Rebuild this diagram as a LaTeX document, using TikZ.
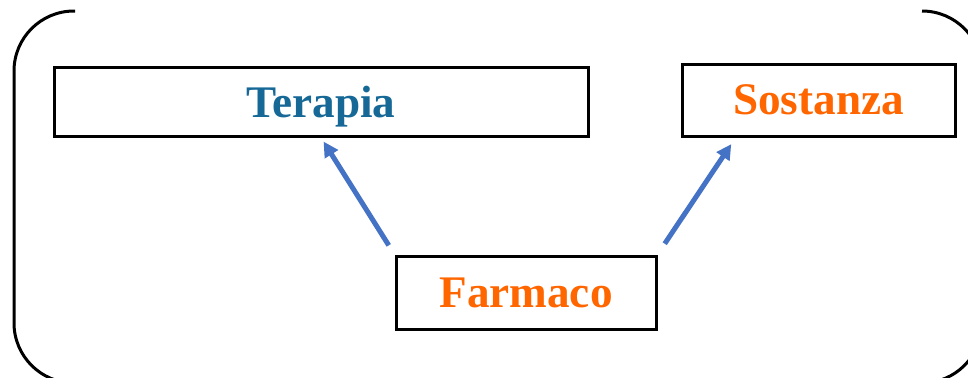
\documentclass[tikz,border=0pt]{standalone}
\usepackage{fontspec}
\setmainfont{Liberation Serif}
\usetikzlibrary{positioning, calc, arrows.meta}

\definecolor{terapiablue}{RGB}{22,104,150}
\definecolor{farmorange}{RGB}{255,102,0}
\definecolor{arrowblue}{RGB}{68,114,196}

\begin{document}
\begin{tikzpicture}[x=0.5pt, y=0.5pt,
        box/.style={draw, line width=1.5pt, rectangle, inner sep=0pt, text depth=0pt, font=\fontsize{22.6}{26}\selectfont\bfseries},
        link/.style={draw=arrowblue, line width=2.5pt, -{Triangle[length=7.5pt, width=7.5pt]}}]
        \clip (0,0) rectangle (968,377);

        % Frame
        \draw[line width=1.5pt, rounded corners=30pt] (75,366) -- (14,366) -- (14,-6) -- (75,-6);
        \draw[line width=1.5pt, rounded corners=30pt] (922,366) -- (982,366) -- (982,-6) -- (922,-6);

        % Nodes
        \node[box, minimum width=130pt, minimum height=36.5pt, text=farmorange] (farmaco) at (526,84.5) {Farmaco};
        \node[box, minimum width=267pt, minimum height=34.5pt, text=terapiablue, above=58.5pt of farmaco, xshift=-102.5pt] (terapia) {Terapia};
        \node[box, minimum width=136.5pt, minimum height=36pt, text=farmorange, above=58.5pt of farmaco, xshift=146.25pt] (sostanza) {Sostanza};

        % Edges
        \draw[link, shorten <=5.4pt, shorten >=2.4pt] (farmaco.north west) -- (terapia.south);
        \draw[link, shorten <=6.5pt, shorten >=4pt] (farmaco.north east) -- ($(sostanza.south west)!0.2!(sostanza.south east)$);
\end{tikzpicture}
\end{document}
